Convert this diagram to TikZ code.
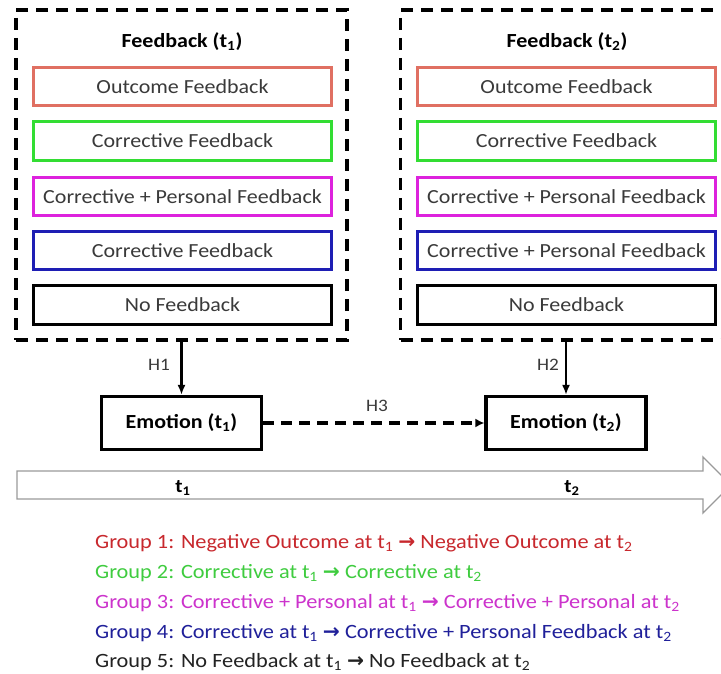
\documentclass[tikz,border=0pt]{standalone}
\usepackage{fontspec}
\setmainfont{Carlito}[FakeStretch=1.1]
\newfontfamily\arrowfont{DejaVu Sans}
\usetikzlibrary{arrows.meta}
\definecolor{textgray}{HTML}{3A3A3A}
\definecolor{outred}{HTML}{E07062}
\definecolor{corgreen}{HTML}{33DD33}
\definecolor{permag}{HTML}{DD22DD}
\definecolor{corblue}{HTML}{1E1EB4}
\definecolor{grpred}{HTML}{C8282D}
\definecolor{grpgreen}{HTML}{3FCC3F}
\definecolor{grpmag}{HTML}{CC33CC}
\definecolor{grpblue}{HTML}{20209A}
\definecolor{grpblack}{HTML}{222222}
\definecolor{bargray}{HTML}{9A9A9A}
\newcommand{\tsub}[1]{\textsubscript{#1}}
\newcommand{\rarr}{{\arrowfont\bfseries →}}
\tikzset{
  container/.style={draw=black, line width=3.3pt, dash pattern=on 12pt off 8pt,
    minimum width=331pt, minimum height=330pt, inner sep=0pt},
  titletext/.style={font=\bfseries\fontsize{20}{24}\selectfont, text=black},
  fbbox/.style={draw, line width=3pt, minimum width=298.5pt, minimum height=38.5pt,
    inner sep=0pt, text=textgray, font=\fontsize{20}{24}\selectfont},
  emobox/.style={draw=black, line width=3.2pt, minimum width=160pt, minimum height=53pt,
    inner sep=0pt, font=\bfseries\fontsize{20}{24}\selectfont},
  hlabel/.style={text=textgray, font=\fontsize{17.5}{21}\selectfont, inner sep=0pt},
  tlabel/.style={text=black, font=\bfseries\fontsize{19}{23}\selectfont, inner sep=0pt},
  legend/.style={anchor=west, inner sep=0pt, font=\fontsize{20.3}{24}\selectfont},
  harrow/.style={line width=2.2pt, -{Latex[length=10pt,width=8pt]}},
  darrow/.style={line width=3.2pt, dash pattern=on 11pt off 7pt, -{Latex[length=9pt,width=9pt]}},
}
\begin{document}
\begin{tikzpicture}[x=1pt,y=-1pt]
\useasboundingbox (0,0) rectangle (721,674);
\fill[white] (0,0) rectangle (721,674);
\clip (0,0) rectangle (721,674);

% containers
\node[container] (c1) at (181.5,175) {};
\node[container] (c2) at (566,175) {};
\node[titletext] (ti1) at (182,42) {Feedback (t\tsub{1})};
\node[titletext] (ti2) at (567,42) {Feedback (t\tsub{2})};

% left column
\node[fbbox, draw=outred]   (l1) at (182.5,86.5) {Outcome Feedback};
\node[fbbox, draw=corgreen] (l2) at (182.5,141) {Corrective Feedback};
\node[fbbox, draw=permag]   (l3) at (182.5,196.5) {Corrective + Personal Feedback};
\node[fbbox, draw=corblue]  (l4) at (182.5,250.5) {Corrective Feedback};
\node[fbbox, draw=black]    (l5) at (182.5,305) {No Feedback};

% right column
\node[fbbox, draw=outred]   (r1) at (566.5,86.5) {Outcome Feedback};
\node[fbbox, draw=corgreen] (r2) at (566.5,141) {Corrective Feedback};
\node[fbbox, draw=permag]   (r3) at (566.5,196.5) {Corrective + Personal Feedback};
\node[fbbox, draw=corblue]  (r4) at (566.5,250.5) {Corrective + Personal Feedback};
\node[fbbox, draw=black]    (r5) at (566.5,305) {No Feedback};

% emotions
\node[emobox] (e1) at (181.5,423) {Emotion (t\tsub{1})};
\node[emobox] (e2) at (566,423) {Emotion (t\tsub{2})};

\draw[harrow] (c1.south) -- (e1.north);
\draw[harrow] (c2.south) -- (e2.north);
\draw[darrow] (e1.east) -- (e2.west);

\node[hlabel] (h1) at (159,365) {H1};
\node[hlabel] (h2) at (548,365) {H2};
\node[hlabel] (h3) at (377,406) {H3};

% time arrow
\draw[bargray, line width=1.3pt, line join=miter, fill=white]
  (17,471) -- (703,471) -- (703,457) -- (731,485) -- (703,513) -- (703,499) -- (17,499) -- cycle;
\node[tlabel] (t1) at (183,488) {t\tsub{1}};
\node[tlabel] (t2) at (572,488) {t\tsub{2}};

% legend
\node[legend, text=grpred]   (g1) at (95,543) {Group 1: Negative Outcome at t\tsub{1} \rarr{} Negative Outcome at t\tsub{2}};
\node[legend, text=grpgreen] (g2) at (95,573) {Group 2: Corrective at t\tsub{1} \rarr{} Corrective at t\tsub{2}};
\node[legend, text=grpmag]   (g3) at (95,603) {Group 3: Corrective + Personal at t\tsub{1} \rarr{} Corrective + Personal at t\tsub{2}};
\node[legend, text=grpblue]  (g4) at (95,633) {Group 4: Corrective at t\tsub{1} \rarr{} Corrective + Personal Feedback at t\tsub{2}};
\node[legend, text=grpblack] (g5) at (95,662) {Group 5: No Feedback at t\tsub{1} \rarr{} No Feedback at t\tsub{2}};
\end{tikzpicture}
\end{document}
